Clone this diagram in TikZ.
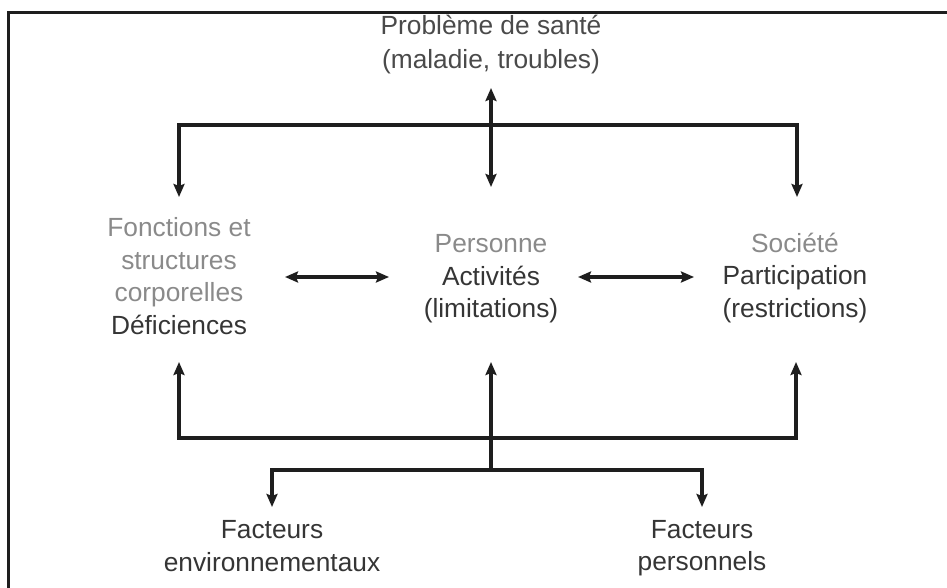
\documentclass[tikz,border=0pt]{standalone}
\usepackage{fontspec}
\setmainfont{Liberation Sans}
\usetikzlibrary{arrows.meta}
\definecolor{lighttxt}{HTML}{8A8A8A}
\definecolor{darktxt}{HTML}{353535}
\definecolor{midtxt}{HTML}{4A4A4A}
\definecolor{linec}{HTML}{1E1E1E}
\begin{document}
\begin{tikzpicture}[x=1pt,y=-1pt,
  lbl/.style={align=center, inner sep=0pt, font=\fontsize{26.3}{32.5}\selectfont, text=darktxt},
  wire/.style={draw=linec, line width=3.6pt, line join=miter},
  onetip/.style={wire, -{Stealth[length=13pt,width=11pt,inset=2pt]}},
  twotip/.style={wire, {Stealth[length=13pt,width=11pt,inset=2pt]}-{Stealth[length=13pt,width=11pt,inset=2pt]}},
  frame/.style={draw=linec, line width=3pt}
]
\useasboundingbox (0,0) rectangle (947,588);
% frame
\draw[frame] (950,12.5) -- (8.7,12.5) -- (8.7,592);

% labels
\node[lbl, text=midtxt, font=\fontsize{26.3}{34}\selectfont] (sante) at (491,45) {Problème de santé\\(maladie, troubles)};
\node[lbl] (fonc) at (179,276) {\textcolor{lighttxt}{Fonctions et}\\\textcolor{lighttxt}{structures}\\\textcolor{lighttxt}{corporelles}\\Déficiences};
\node[lbl] (pers) at (491,279) {\textcolor{lighttxt}{Personne}\\Activités\\(limitations)};
\node[lbl] (soc) at (795,278) {\textcolor{lighttxt}{Société}\\Participation\\(restrictions)};
\node[lbl] (env) at (272,546) {Facteurs\\environnementaux};
\node[lbl] (perso) at (702,548) {Facteurs\\personnels};

% connector points
\coordinate (sTop) at (491,88);
\coordinate (sBot) at (491,187);
\coordinate (tL) at (179,125);
\coordinate (tR) at (797,125);
\coordinate (fIn) at (179,197);
\coordinate (socIn) at (797,197);

\coordinate (fOut) at (285,277);
\coordinate (pInL) at (389,277);
\coordinate (pOutR) at (578,277);
\coordinate (socInL) at (694,277);

\coordinate (fUp) at (179,362);
\coordinate (pUp) at (491,362);
\coordinate (socUp) at (796,362);
\coordinate (bL) at (179,438);
\coordinate (bR) at (796,438);
\coordinate (bM) at (491,470);
\coordinate (eL) at (272,470);
\coordinate (eR) at (702,470);
\coordinate (envIn) at (272,507);
\coordinate (persoIn) at (702,507);

% connectors
\draw[twotip] (sTop) -- (sBot);
\draw[twotip] (fIn) -- (tL) -- (tR) -- (socIn);
\draw[twotip] (fOut) -- (pInL);
\draw[twotip] (pOutR) -- (socInL);
\draw[twotip] (fUp) -- (bL) -- (bR) -- (socUp);
\draw[onetip] (bM) -- (pUp);
\draw[twotip] (envIn) -- (eL) -- (eR) -- (persoIn);
\end{tikzpicture}
\end{document}
